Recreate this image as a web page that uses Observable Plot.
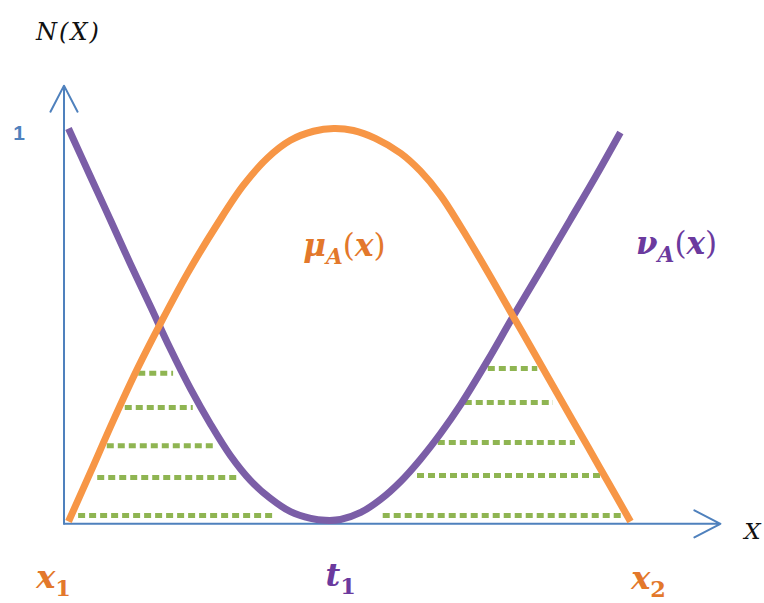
<!DOCTYPE html>
<html><head><meta charset="utf-8">
<script src="https://cdn.jsdelivr.net/npm/d3@7"></script>
<script src="https://cdn.jsdelivr.net/npm/@observablehq/plot@0.6"></script>
<style>body{margin:0;background:#fff} #chart svg{display:block}</style>
</head><body><div id="chart"></div>
<script>
// membership function mu_A(x)
const muX = [0, 0.039, 0.080, 0.123, 0.164, 0.212, 0.265, 0.311, 0.354, 0.395, 0.436, 0.472, 0.507, 0.546, 0.591, 0.626, 0.662, 0.698, 0.746, 0.790, 0.835, 0.870, 0.925, 0.959, 1.0];
const muY = [0, 0.125, 0.258, 0.39, 0.505, 0.632, 0.757, 0.855, 0.925, 0.97, 0.993, 1.0, 0.995, 0.975, 0.937, 0.892, 0.83, 0.75, 0.635, 0.525, 0.413, 0.325, 0.188, 0.103, 0.0];
// non-membership function nu_A(x)
const nuX = [0, 0.039, 0.075, 0.110, 0.146, 0.181, 0.217, 0.253, 0.288, 0.324, 0.359, 0.395, 0.431, 0.457, 0.484, 0.520, 0.555, 0.591, 0.626, 0.662, 0.698, 0.746, 0.790, 0.840, 0.893, 0.938, 0.982];
const nuY = [1.0, 0.878, 0.766, 0.656, 0.547, 0.440, 0.338, 0.247, 0.168, 0.104, 0.059, 0.025, 0.008, 0.003, 0.005, 0.023, 0.056, 0.102, 0.158, 0.224, 0.298, 0.410, 0.519, 0.639, 0.768, 0.878, 0.990];
// hesitancy hatch lines
const hatchY  = [0.377, 0.290, 0.193, 0.112, 0.015, 0.389, 0.303, 0.201, 0.117, 0.015];
const hatchX1 = [0.125, 0.101, 0.069, 0.052, 0.018, 0.747, 0.706, 0.658, 0.621, 0.560];
const hatchX2 = [0.187, 0.222, 0.262, 0.306, 0.365, 0.835, 0.863, 0.902, 0.959, 0.988];
const yTicks = [1];

const mu = muX.map((x, i) => ({x, y: muY[i]}));
const nu = nuX.map((x, i) => ({x, y: nuY[i]}));
const hatch = hatchY.map((y, i) => ({y, x1: hatchX1[i], x2: hatchX2[i]}));

const ORANGE = "#f79646", PURPLE = "#7b5ea7", GREEN = "#8fb552", BLUE = "#4f81bd";
const ORANGE_T = "#e3782b", PURPLE_T = "#6b3a9e";
const MATH = "DejaVu Serif";
const axisX0 = -0.008;

const chart = Plot.plot({
  width: 764, height: 603,
  marginLeft: 68, marginRight: 134, marginTop: 128, marginBottom: 82,
  x: {domain: [0, 1], axis: null},
  y: {domain: [0, 1], axis: null},
  style: {background: "#fff"},
  marks: [
    Plot.ruleY(hatch, {y: "y", x1: "x1", x2: "x2", stroke: GREEN, strokeWidth: 5, strokeDasharray: "7 4"}),
    Plot.arrow([0], {x1: axisX0, y1: -0.006, x2: 1.16, y2: -0.006, stroke: BLUE, strokeWidth: 2, headLength: 22, headAngle: 55}),
    Plot.arrow([0], {x1: axisX0, y1: -0.006, x2: axisX0, y2: 1.109, stroke: BLUE, strokeWidth: 2, headLength: 22, headAngle: 55}),
    Plot.line(nu, {x: "x", y: "y", stroke: PURPLE, strokeWidth: 7, curve: "catmull-rom", strokeLinecap: "butt"}),
    Plot.line(mu, {x: "x", y: "y", stroke: ORANGE, strokeWidth: 7, curve: "catmull-rom", strokeLinecap: "butt"}),
    Plot.text(yTicks, {x: axisX0, y: d => d, text: d => String(d), dx: -45, dy: 5, fill: BLUE, fontSize: 21, fontWeight: "bold", fontFamily: "Liberation Sans"}),
    Plot.text(["N(X)"], {x: 0, y: 1.244, text: d => d, fontSize: 24, fontStyle: "italic", fontFamily: MATH, fill: "#111"}),
    Plot.text(["X"], {x: 1.16, y: 0, text: d => d, dx: 32, dy: 10, fontSize: 23, fontStyle: "italic", fontFamily: MATH, fill: "#111"}),
    Plot.text(["μ_A(x)"], {x: 0.491, y: 0.702, text: d => d, fontSize: 31, fontWeight: "bold", fontStyle: "italic", fontFamily: MATH, fill: ORANGE_T}),
    Plot.text(["ν_A(x)"], {x: 1.082, y: 0.707, text: d => d, fontSize: 31, fontWeight: "bold", fontStyle: "italic", fontFamily: MATH, fill: PURPLE_T}),
    Plot.text(["x_1"], {x: 0, y: 0, text: d => d, dx: -15, dy: 56, fontSize: 32, fontWeight: "bold", fontStyle: "italic", fontFamily: MATH, fill: ORANGE_T}),
    Plot.text(["t_1"], {x: 0.47, y: 0, text: d => d, dx: 8, dy: 54, fontSize: 32, fontWeight: "bold", fontStyle: "italic", fontFamily: MATH, fill: PURPLE_T}),
    Plot.text(["x_2"], {x: 1, y: 0, text: d => d, dx: 18, dy: 57, fontSize: 32, fontWeight: "bold", fontStyle: "italic", fontFamily: MATH, fill: ORANGE_T})
  ]
});

// N(X) is set with wide math spacing
d3.select(chart).selectAll("text").filter(function() { return this.textContent === "N(X)"; })
  .attr("letter-spacing", "2px");

// turn "a_b rest" into base + subscript tspans
const SUB = 0.7, SHIFT = 0.38;
d3.select(chart).selectAll("text").each(function() {
  const s = this.textContent;
  const m = s.match(/^(.+?)_(.)(.*)$/);
  if (!m) return;
  const t = d3.select(this);
  t.text(null);
  t.append("tspan").text(m[1]);
  const isLetter = /[A-Za-z]/.test(m[2]);
  t.append("tspan").attr("font-size", SUB + "em").attr("dy", SHIFT + "em")
    .attr("font-style", isLetter ? "italic" : "normal").text(m[2]);
  let first = true;
  for (const ch of m[3]) {
    const letter = /[A-Za-z]/.test(ch);
    const sp = t.append("tspan").text(ch)
      .attr("font-style", letter ? "italic" : "normal")
      .attr("font-weight", letter ? "bold" : "normal");
    if (first) { sp.attr("dy", (-SUB * SHIFT) + "em"); first = false; }
  }
});

document.getElementById("chart").append(chart);
</script></body></html>
